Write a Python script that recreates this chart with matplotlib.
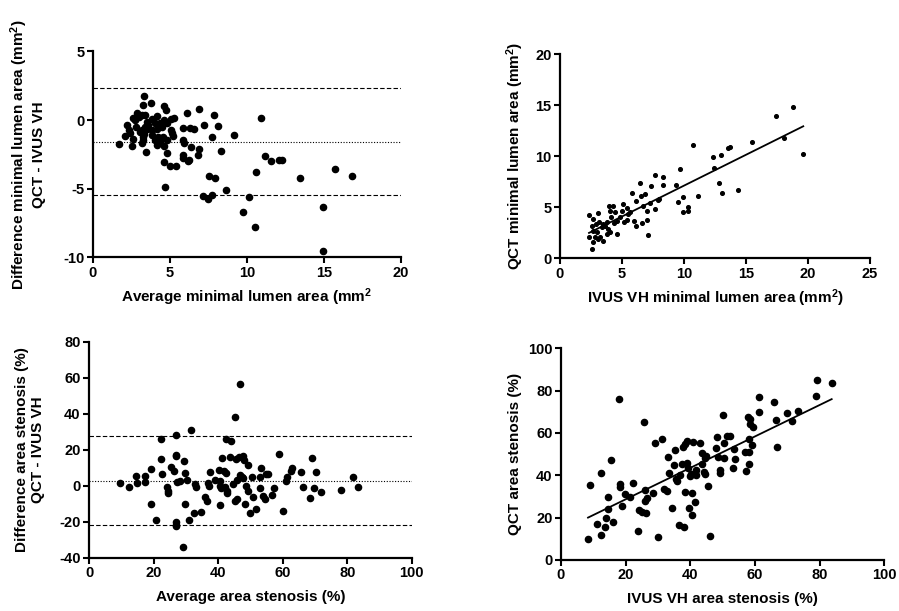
import numpy as np
import matplotlib
matplotlib.use("Agg")
import matplotlib.pyplot as plt

plt.rcParams['font.family'] = ['Liberation Sans', 'DejaVu Sans']
plt.rcParams['font.weight'] = 'bold'
plt.rcParams['axes.unicode_minus'] = False
plt.rcParams['mathtext.fontset'] = 'custom'
plt.rcParams['mathtext.bf'] = 'Liberation Sans:bold'
plt.rcParams['mathtext.rm'] = 'Liberation Sans:bold'
plt.rcParams['mathtext.default'] = 'bf'

# Bland-Altman MLA (promedio vs diferencia)
mla_avg = [3.35, 3.28, 3.76, 4.62, 4.78, 2.85, 3.18, 3.39, 2.74, 2.20, 2.38, 2.09, 2.63, 1.73, 2.57,
           3.18, 3.28, 3.46, 3.07, 3.39, 3.61, 3.50, 3.82, 4.15, 4.04, 4.15, 3.82, 4.26, 4.36, 4.15,
           4.54, 4.80, 4.62, 4.80, 4.62, 5.01, 5.40, 4.69, 4.36, 4.62, 4.80, 5.08, 5.27, 5.08, 5.12,
           5.19, 5.88, 5.92, 5.88, 6.14, 6.31, 6.57, 6.35, 5.83, 5.83, 6.20, 6.27, 6.85, 6.91, 6.91,
           7.24, 7.71, 7.89, 8.15, 8.30, 7.56, 7.95, 7.17, 7.50, 7.74, 8.62, 9.16, 9.73, 10.11, 10.50,
           10.59, 10.91, 11.17, 11.56, 12.10, 12.28, 13.42, 14.96, 14.96, 15.69, 16.82,
           3.18, 3.33, 3.54, 3.24, 3.82, 3.02, 2.59, 2.42, 2.81, 4.04, 4.47]
mla_diff = [1.78, 1.09, 1.22, 1.02, 0.73, 0.49, 0.36, 0.36, 0.00, -0.36, -0.73, -1.17, -1.41, -1.75, -1.90,
            -1.65, -1.46, -2.34, -0.85, -0.49, -0.36, -0.12, 0.05, 0.32, -0.24, -0.61, -1.09, -1.22, -1.51, -1.82,
            -1.22, -1.46, -1.90, -2.43, -3.07, -3.36, -3.36, -4.89, -0.24, 0.00, -0.19, 0.05, 0.12, -0.73, -0.97,
            -1.17, -1.46, -1.65, -0.54, 0.54, -0.56, -0.68, -1.95, -2.51, -2.73, -2.97, -2.92, -2.55, -2.12, 0.80,
            -0.32, -1.22, 0.34, -0.44, -2.24, -4.06, -4.18, -5.55, -5.77, -5.45, -5.09, -1.09, -6.72, -5.62, -7.79,
            -3.80, 0.17, -2.58, -2.94, -2.92, -2.92, -4.23, -6.35, -9.51, -3.58, -4.09,
            -0.73, -1.02, -0.61, -1.22, -0.73, 0.24, 0.12, -0.97, -0.49, -1.46, -0.49]
mla_lines = [2.31, -1.58, -5.47]  # limite sup, media, limite inf

# MLA IVUS VH vs QCT
mla_ivus = [2.34, 3.09, 2.63, 2.34, 2.55, 2.69, 2.82, 3.09, 3.23, 3.44, 2.96, 2.69, 2.55, 2.90, 3.17,
            3.36, 3.49, 3.63, 3.76, 3.90, 4.03, 3.76, 4.57, 4.03, 4.30, 3.98, 4.41, 4.14, 4.33, 4.60,
            4.84, 4.97, 5.11, 5.16, 5.38, 5.51, 5.65, 5.43, 5.78, 5.97, 6.10, 6.10, 6.45, 6.53, 6.67,
            6.59, 6.85, 6.98, 7.04, 7.07, 7.26, 7.34, 7.66, 7.66, 7.98, 7.93, 8.28, 8.33, 9.35, 9.54,
            9.68, 9.95, 9.89, 10.35, 10.35, 10.75, 11.10, 12.37, 12.42, 12.85, 12.98, 13.04, 13.52, 13.71, 14.33,
            15.48, 17.42, 18.06, 18.76, 19.62]
mla_qct = [4.26, 4.39, 3.84, 2.05, 0.91, 1.63, 2.05, 1.89, 2.05, 1.72, 2.54, 2.70, 3.19, 3.35, 3.51,
           3.02, 3.35, 3.19, 3.51, 2.86, 2.54, 2.37, 2.37, 4.65, 5.14, 5.14, 4.49, 4.00, 3.42, 3.67,
           4.00, 4.65, 5.30, 3.51, 4.88, 4.33, 4.55, 3.74, 6.44, 3.67, 5.63, 3.12, 7.41, 6.11, 5.14,
           3.45, 6.28, 3.74, 4.62, 2.31, 5.43, 7.09, 8.13, 4.81, 5.85, 5.69, 8.00, 7.22, 7.19, 5.56,
           8.72, 6.02, 4.49, 4.98, 4.65, 11.06, 6.11, 9.92, 8.81, 7.35, 10.11, 6.44, 10.76, 10.89, 6.70,
           11.38, 13.95, 11.80, 14.83, 10.24]

# Bland-Altman % estenosis
as_avg = [9.49, 12.48, 14.54, 14.85, 17.22, 17.22, 19.18, 19.08, 20.84, 22.28, 22.38, 22.49, 24.14, 24.35, 24.45,
          25.48, 26.20, 26.93, 27.03, 26.93, 27.03, 27.03, 27.03, 27.24, 28.06, 29.50, 29.61, 29.81, 30.33, 29.09,
          31.05, 31.47, 32.39, 32.70, 33.12, 34.66, 35.80, 36.50, 36.83, 37.04, 37.55, 38.90, 40.13, 40.44, 40.65,
          40.86, 40.55, 41.17, 41.68, 42.00, 42.51, 42.71, 42.71, 42.30, 43.95, 43.75, 44.57, 45.29, 45.50, 45.81,
          46.33, 46.84, 46.84, 47.36, 47.57, 47.87, 48.08, 45.29, 45.81, 48.39, 48.70, 49.42, 49.42, 49.73, 50.45,
          50.66, 51.69, 52.83, 53.03, 53.24, 54.06, 54.58, 54.89, 55.61, 56.65, 57.47, 59.02, 60.05, 60.98, 61.29,
          62.53, 62.84, 65.63, 66.25, 68.51, 69.03, 69.75, 70.27, 71.81, 78.11, 81.93, 83.48]
as_diff = [1.67, -0.74, 5.37, 1.48, 5.56, 1.85, 9.44, -10.0, -19.07, 14.63, 25.74, 6.48, -0.56, -2.78, -4.26,
           10.56, 8.15, 16.48, 17.04, 28.33, -20.0, -21.85, -22.4, 1.85, 2.41, 13.52, 6.85, -10.0, 3.15, -34.26,
           -18.89, 30.93, -15.0, 0.93, -0.56, -14.44, -6.11, -8.70, 1.67, -0.19, 7.78, 3.15, 8.70, -0.19, 2.78,
           -1.48, -10.56, 15.19, 8.15, -0.56, 6.85, -2.96, -4.26, 25.93, 25.0, 15.74, 0.93, 38.33, 14.81, 3.15,
           15.74, 56.48, 5.93, 4.63, 4.07, 16.48, 14.26, -8.52, -7.59, -10.19, 0.00, -2.78, 11.48, -15.0, 4.63,
           -6.48, -13.15, -1.48, 4.63, 9.63, -5.56, -7.41, 6.48, 6.48, -5.19, -1.48, 17.41, -13.89, 2.78, 5.00,
           8.33, 9.63, 7.78, -0.93, -6.67, 15.19, -1.11, 7.78, -3.70, -2.41, 4.81, -0.93]
as_lines = [27.6, 2.8, -21.8]

# % estenosis IVUS VH vs QCT
as_ivus = [8.36, 9.08, 11.15, 12.28, 12.49, 13.93, 13.73, 14.45, 14.65, 15.58, 16.00, 18.06, 18.16, 18.27, 18.99,
           19.81, 21.47, 22.40, 23.86, 24.25, 25.08, 25.59, 25.90, 26.11, 26.32, 26.52, 28.38, 29.10, 30.13, 31.17,
           31.79, 32.71, 33.23, 33.44, 34.37, 35.29, 35.09, 35.60, 35.92, 36.64, 36.84, 37.46, 37.87, 37.98, 38.29,
           38.49, 39.01, 39.01, 39.22, 39.63, 39.94, 40.45, 40.76, 40.25, 40.45, 41.38, 41.80, 41.80, 43.03, 43.45,
           43.65, 44.07, 44.48, 44.48, 44.89, 45.41, 45.92, 47.99, 48.19, 48.50, 49.02, 49.23, 49.95, 50.26, 50.36,
           51.39, 52.12, 53.35, 53.15, 53.66, 56.76, 57.07, 57.79, 58.00, 58.00, 58.31, 58.10, 58.51, 59.03, 59.34,
           61.20, 61.20, 65.74, 66.36, 66.77, 69.97, 71.52, 73.27, 78.95, 79.16, 83.69]
as_qct = [10.08, 35.28, 17.00, 41.26, 11.81, 19.69, 15.43, 23.94, 29.76, 47.24, 17.80, 75.91, 35.75, 34.65, 25.67,
          31.02, 29.92, 36.38, 13.86, 23.62, 22.83, 65.20, 33.07, 28.03, 22.36, 29.29, 31.81, 55.43, 10.71, 57.01,
          33.39, 32.76, 48.82, 41.26, 24.57, 51.97, 44.88, 38.11, 37.32, 16.54, 40.16, 45.35, 53.23, 15.75, 54.80,
          32.28, 56.38, 45.98, 43.31, 24.41, 39.69, 21.26, 55.59, 40.47, 31.81, 27.24, 42.52, 40.16, 55.43, 45.20,
          50.39, 41.73, 40.47, 48.03, 49.13, 35.12, 11.34, 52.76, 58.27, 48.82, 42.52, 41.26, 68.35, 55.12, 48.03,
          58.58, 58.74, 52.28, 43.31, 47.56, 51.18, 42.20, 67.72, 57.01, 50.87, 66.77, 45.20, 64.25, 54.17, 62.68,
          77.17, 69.76, 74.65, 66.14, 53.23, 69.61, 65.67, 70.39, 77.32, 84.88, 83.46]

fig = plt.figure(figsize=(8.99, 6.11), dpi=100)


def estilo(ax):
    for s in ['top', 'right']:
        ax.spines[s].set_visible(False)
    for s in ['left', 'bottom']:
        ax.spines[s].set_linewidth(1.6)
    ax.tick_params(direction='out', length=4, width=1.5, labelsize=10.5, pad=2)
    for lab in ax.get_xticklabels() + ax.get_yticklabels():
        lab.set_fontweight('bold')


# Panel 1
ax1 = fig.add_axes([0.1031, 0.5786, 0.343, 0.3372])
ax1.scatter(mla_avg, mla_diff, s=20, color='black', zorder=3)
ax1.axhline(mla_lines[0], color='black', lw=0.8, ls=(0, (4, 2)))
ax1.axhline(mla_lines[1], color='black', lw=0.8, ls=(0, (1, 1.5)))
ax1.axhline(mla_lines[2], color='black', lw=0.8, ls=(0, (4, 2)))
ax1.set_xlim(0, 20)
ax1.set_ylim(-10, 5)
ax1.set_xticks([0, 5, 10, 15, 20])
ax1.set_yticks([-10, -5, 0, 5])
ax1.set_xlabel('Average minimal lumen area (mm$^2$', fontsize=11, fontweight='bold')
ax1.set_ylabel('Difference minimal lumen area (mm$^2$)\nQCT - IVUS VH', fontsize=11, fontweight='bold')
ax1.xaxis.set_label_coords(0.5, -0.14)
ax1.yaxis.set_label_coords(-0.15, 0.5)
estilo(ax1)

# Panel 2
ax2 = fig.add_axes([0.6229, 0.5772, 0.3448, 0.3344])
ax2.scatter(mla_ivus, mla_qct, s=7, color='black', zorder=3)
b2 = np.polyfit(mla_ivus, mla_qct, 1)
x2 = np.array([min(mla_ivus), max(mla_ivus)])
ax2.plot(x2, np.polyval(b2, x2), color='black', lw=1.3)
ax2.set_xlim(0, 25)
ax2.set_ylim(0, 20)
ax2.set_xticks([0, 5, 10, 15, 20, 25])
ax2.set_yticks([0, 5, 10, 15, 20])
ax2.set_xlabel('IVUS VH minimal lumen area (mm$^2$)', fontsize=11, fontweight='bold')
ax2.set_ylabel('QCT minimal lumen area (mm$^2$)', fontsize=11, fontweight='bold')
ax2.xaxis.set_label_coords(0.5, -0.14)
ax2.yaxis.set_label_coords(-0.11, 0.5)
estilo(ax2)

# Panel 3
ax3 = fig.add_axes([0.099, 0.0872, 0.359, 0.3535])
ax3.scatter(as_avg, as_diff, s=20, color='black', zorder=3)
ax3.axhline(as_lines[0], color='black', lw=0.8, ls=(0, (4, 2)))
ax3.axhline(as_lines[1], color='black', lw=0.8, ls=(0, (1, 1.5)))
ax3.axhline(as_lines[2], color='black', lw=0.8, ls=(0, (4, 2)))
ax3.set_xlim(0, 100)
ax3.set_ylim(-40, 80)
ax3.set_xticks([0, 20, 40, 60, 80, 100])
ax3.set_yticks([-40, -20, 0, 20, 40, 60, 80])
ax3.set_xlabel('Average area stenosis (%)', fontsize=11, fontweight='bold')
ax3.set_ylabel('Difference area stenosis (%)\nQCT - IVUS VH', fontsize=11, fontweight='bold')
ax3.xaxis.set_label_coords(0.5, -0.15)
ax3.yaxis.set_label_coords(-0.135, 0.5)
estilo(ax3)

# Panel 4
ax4 = fig.add_axes([0.624, 0.0835, 0.3598, 0.3465])
ax4.scatter(as_ivus, as_qct, s=20, color='black', zorder=3)
b4 = np.polyfit(as_ivus, as_qct, 1)
x4 = np.array([min(as_ivus), max(as_ivus)])
ax4.plot(x4, np.polyval(b4, x4), color='black', lw=1.3)
ax4.set_xlim(0, 100)
ax4.set_ylim(0, 100)
ax4.set_xticks([0, 20, 40, 60, 80, 100])
ax4.set_yticks([0, 20, 40, 60, 80, 100])
ax4.set_xlabel('IVUS VH area stenosis (%)', fontsize=11, fontweight='bold')
ax4.set_ylabel('QCT area stenosis (%)', fontsize=11, fontweight='bold')
ax4.xaxis.set_label_coords(0.5, -0.15)
ax4.yaxis.set_label_coords(-0.12, 0.5)
estilo(ax4)

fig.savefig('out.png', dpi=100)
